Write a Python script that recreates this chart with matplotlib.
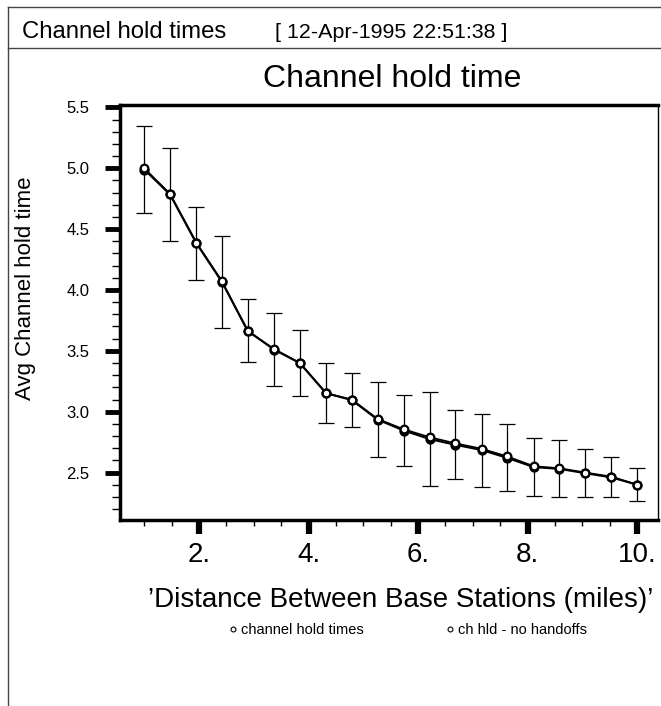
#!/usr/bin/env python3

import matplotlib
matplotlib.use("Agg")
import matplotlib.pyplot as plt
from matplotlib.lines import Line2D
from matplotlib.ticker import MultipleLocator, FixedLocator

plt.rcParams['font.family'] = ['Liberation Sans', 'DejaVu Sans']

# data
distance = [1.0, 1.47, 1.95, 2.42, 2.89, 3.37, 3.84, 4.32, 4.79, 5.26,
            5.74, 6.21, 6.68, 7.16, 7.63, 8.11, 8.58, 9.05, 9.53, 10.0]
hold_time = [4.99, 4.785, 4.385, 4.065, 3.665, 3.51, 3.40, 3.153, 3.095, 2.935,
             2.845, 2.775, 2.728, 2.685, 2.62, 2.545, 2.53, 2.495, 2.46, 2.40]
hold_time_noho = [5.00, 4.79, 4.39, 4.07, 3.66, 3.515, 3.40, 3.15, 3.10, 2.94,
                  2.855, 2.79, 2.74, 2.695, 2.632, 2.552, 2.535, 2.50, 2.466, 2.40]
hold_err = [0.36, 0.385, 0.30, 0.38, 0.26, 0.30, 0.27, 0.25, 0.22, 0.305,
            0.29, 0.385, 0.285, 0.30, 0.275, 0.235, 0.235, 0.20, 0.165, 0.135]
series_names = ["channel hold times", "ch hld - no handoffs"]
xtick_vals = [2, 4, 6, 8, 10]
xtick_labels = ["2.", "4.", "6.", "8.", "10."]
ytick_vals = [2.5, 3.0, 3.5, 4.0, 4.5, 5.0, 5.5]

W, H = 661, 706
fig = plt.figure(figsize=(W / 100, H / 100), dpi=100)

# page frame + header
fc = '#444444'
fig.add_artist(Line2D([8 / W, 1], [1 - 7 / H] * 2, transform=fig.transFigure, color=fc, lw=1.0))
fig.add_artist(Line2D([8 / W, 1], [1 - 48 / H] * 2, transform=fig.transFigure, color=fc, lw=1.0))
fig.add_artist(Line2D([8 / W] * 2, [0, 1 - 7 / H], transform=fig.transFigure, color=fc, lw=1.0))
fig.text(22 / W, 1 - 38 / H, "Channel hold times", fontsize=17.2, va='baseline')
fig.text(275 / W, 1 - 38 / H, "[ 12-Apr-1995 22:51:38 ]", fontsize=15.4, va='baseline')

ax = fig.add_axes([120 / W, 1 - 520 / H, (658 - 120) / W, (520 - 105) / H])

# error bars only drawn once, both curves on top
ax.errorbar(distance, hold_time, yerr=hold_err, fmt='none', ecolor='black',
            elinewidth=0.9, capsize=6, capthick=0.9)
ax.plot(distance, hold_time, color='black', lw=1.5, marker='o', ms=5.5,
        mfc='white', mec='black', mew=1.9)
ax.plot(distance, hold_time_noho, color='black', lw=1.3, marker='o', ms=5.5,
        mfc='white', mec='black', mew=1.6)

ax.set_xlim(0.557, 10.38)
ax.set_ylim(2.11, 5.52)

ax.xaxis.set_major_locator(FixedLocator(xtick_vals))
ax.set_xticklabels(xtick_labels)
ax.xaxis.set_minor_locator(MultipleLocator(0.5))
ax.yaxis.set_major_locator(FixedLocator(ytick_vals))
ax.set_yticklabels([f"{v:.1f}" for v in ytick_vals])
ax.yaxis.set_minor_locator(MultipleLocator(0.1))

ax.tick_params(axis='y', which='major', length=11, width=3.5, labelsize=12, pad=11)
ax.tick_params(axis='y', which='minor', length=6, width=1.0)
ax.tick_params(axis='x', which='major', length=10, width=4.5, labelsize=20, pad=6)
ax.tick_params(axis='x', which='minor', length=4.5, width=1.0)

for s in ('left', 'top', 'bottom'):
    ax.spines[s].set_linewidth(2.5)
ax.spines['right'].set_linewidth(1.0)

# titles
fig.text(392 / W, 1 - 87 / H, "Channel hold time", fontsize=23, ha='center', va='baseline')
fig.text(401 / W, 1 - 607 / H, "\u2019Distance Between Base Stations (miles)\u2019",
         fontsize=20, ha='center', va='baseline')
fig.text(26 / W, 1 - 288 / H, "Avg Channel hold time", fontsize=16, rotation=90,
         ha='center', va='center')

# legend
handles = [Line2D([], [], ls='none', marker='o', ms=3.5, mfc='white', mec='black', mew=0.8)
           for _ in series_names]
fig.legend(handles, series_names, loc='center', bbox_to_anchor=(408 / W, 1 - 630 / H),
           ncol=2, frameon=False, fontsize=10.5, handlelength=0.5, handletextpad=0.3,
           columnspacing=5.7)

fig.savefig("out.png", dpi=100)
